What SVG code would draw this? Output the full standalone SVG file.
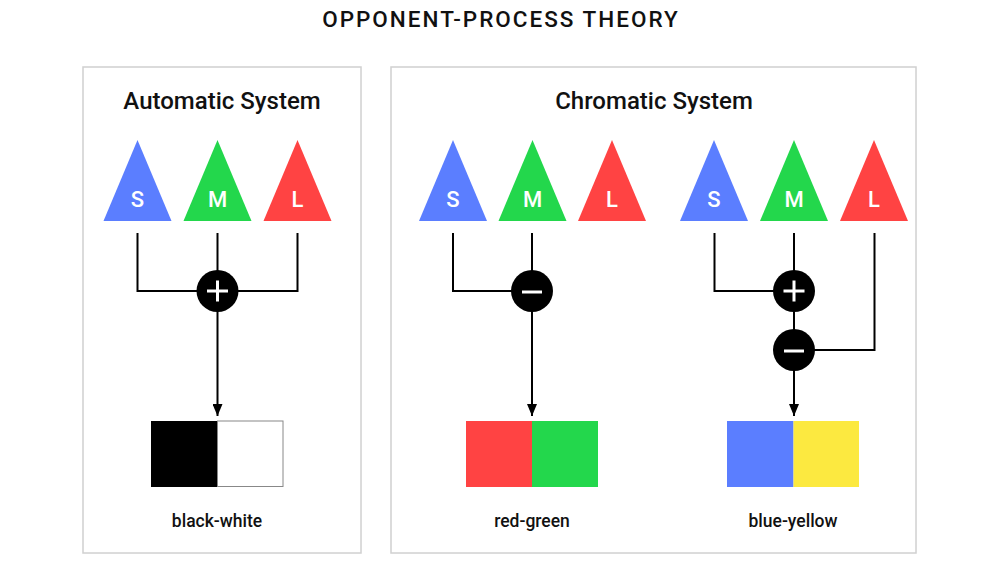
<svg xmlns="http://www.w3.org/2000/svg" width="1000" height="571" viewBox="0 0 1000 571">
<defs>
<marker id="arr" viewBox="0 0 12 10" refX="12" refY="5" markerWidth="12" markerHeight="10" markerUnits="userSpaceOnUse" orient="auto">
<path d="M0,0 L12,5 L0,10 Z" fill="#000"/>
</marker>
</defs>
<style>
text{font-family:Roboto,"Liberation Sans",sans-serif;}
.title{font-size:22.5px;font-weight:500;letter-spacing:2px;fill:#111;}
.head{font-size:24px;font-weight:500;fill:#111;}
.lab{font-size:17.5px;font-weight:500;fill:#111;}
.cone{font-size:22px;font-weight:500;fill:#fff;}
.panel{fill:#fff;stroke:#d0d0d0;stroke-width:1.5;}
.wire{fill:none;stroke:#000;stroke-width:2;}
.sign{stroke:#fff;stroke-width:3;fill:none;}
.b{fill:#5B7EFF;}.g{fill:#23D74C;}.r{fill:#FF4343;}.y{fill:#FCE940;}
</style>
<rect width="1000" height="571" fill="#fff"/>
<text class="title" x="501" y="26.7" text-anchor="middle">OPPONENT-PROCESS THEORY</text>

<g id="panel-automatic">
<rect class="panel" x="83" y="67" width="278" height="486"/>
<text class="head" x="222" y="108.5" text-anchor="middle">Automatic System</text>
</g>
<g id="panel-chromatic">
<rect class="panel" x="391" y="67" width="525" height="486"/>
<text class="head" x="654" y="108.5" text-anchor="middle">Chromatic System</text>
</g>

<g id="connectors">
<path class="wire" d="M137.5,233 V291 H297.5 V233"/>
<path class="wire" d="M217.5,233 V291"/>
<path class="wire" d="M217.5,291 V416" marker-end="url(#arr)"/>
<path class="wire" d="M453,233 V291 H532"/>
<path class="wire" d="M532,233 V291"/>
<path class="wire" d="M532,291 V416" marker-end="url(#arr)"/>
<path class="wire" d="M714.5,233 V291 H794"/>
<path class="wire" d="M794,233 V350"/>
<path class="wire" d="M874.5,233 V350 H794"/>
<path class="wire" d="M794,350 V416" marker-end="url(#arr)"/>
</g>

<g id="auto-S"><polygon class="b" points="137.5,140 103.5,221 171.5,221"/><text class="cone" x="137.5" y="207" text-anchor="middle">S</text></g>
<g id="auto-M"><polygon class="g" points="217.5,140 183.5,221 251.5,221"/><text class="cone" x="217.5" y="207" text-anchor="middle">M</text></g>
<g id="auto-L"><polygon class="r" points="297.5,140 263.5,221 331.5,221"/><text class="cone" x="297.5" y="207" text-anchor="middle">L</text></g>

<g id="rg-S"><polygon class="b" points="453,140 419,221 487,221"/><text class="cone" x="453" y="207" text-anchor="middle">S</text></g>
<g id="rg-M"><polygon class="g" points="532.5,140 498.5,221 566.5,221"/><text class="cone" x="532.5" y="207" text-anchor="middle">M</text></g>
<g id="rg-L"><polygon class="r" points="612,140 578,221 646,221"/><text class="cone" x="612" y="207" text-anchor="middle">L</text></g>

<g id="by-S"><polygon class="b" points="714,140 680,221 748,221"/><text class="cone" x="714" y="207" text-anchor="middle">S</text></g>
<g id="by-M"><polygon class="g" points="794,140 760,221 828,221"/><text class="cone" x="794" y="207" text-anchor="middle">M</text></g>
<g id="by-L"><polygon class="r" points="874,140 840,221 908,221"/><text class="cone" x="874" y="207" text-anchor="middle">L</text></g>

<g id="auto-plus"><circle cx="217.5" cy="291" r="21" fill="#000"/><path class="sign" d="M207,291 H228 M217.5,280.5 V301.5"/></g>
<g id="rg-minus"><circle cx="532" cy="291" r="21" fill="#000"/><path class="sign" d="M522,292 H542"/></g>
<g id="by-plus"><circle cx="794" cy="291" r="21" fill="#000"/><path class="sign" d="M783.5,291 H804.5 M794,280.5 V301.5"/></g>
<g id="by-minus"><circle cx="794" cy="350" r="21" fill="#000"/><path class="sign" d="M784,351 H804"/></g>

<g id="swatch-bw">
<rect x="151" y="421" width="66.5" height="66" fill="#000"/>
<rect x="217.5" y="421" width="65.5" height="65.5" fill="#fff" stroke="#888" stroke-width="1"/>
<text class="lab" x="217" y="527.3" text-anchor="middle">black-white</text>
</g>
<g id="swatch-rg">
<rect class="r" x="466" y="421" width="66" height="66"/>
<rect class="g" x="532" y="421" width="66" height="66"/>
<text class="lab" x="532" y="527.3" text-anchor="middle">red-green</text>
</g>
<g id="swatch-by">
<rect class="b" x="727" y="421" width="66.5" height="66"/>
<rect class="y" x="793.5" y="421" width="65.5" height="66"/>
<text class="lab" x="793" y="527.3" text-anchor="middle">blue-yellow</text>
</g>
</svg>
